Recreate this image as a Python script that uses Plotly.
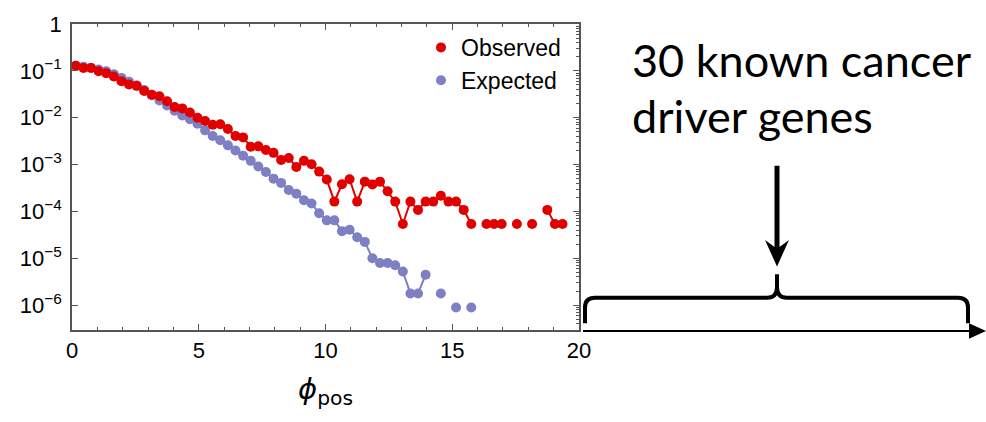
import plotly.graph_objects as go

# Bin centres of phi_pos (bin width 0.3)
phi = [round(0.15 + 0.3 * k, 2) for k in range(65)]

observed = [
    0.129, 0.115, 0.115, 0.0977, 0.0891, 0.0759, 0.0603, 0.0513, 0.0479, 0.0372,
    0.0309, 0.0288, 0.0224, 0.0170, 0.0158, 0.0129, 0.0100, 0.00851, 0.00708, 0.00724,
    0.00575, 0.00407, 0.00380, 0.00240, 0.00245, 0.00204, 0.00178, 0.00126, 0.00138, 0.000891,
    0.00120, 0.00102, 0.000708, 0.000479, 0.000162, 0.000380, 0.000486, 0.000162, 0.000432, 0.000378,
    0.000432, 0.000270, 0.000162, 0.000054, 0.000162, 0.000108, 0.000162, 0.000162, 0.000216, 0.000162,
    0.000162, 0.000108, 0.000054, None, 0.000054, 0.000054, 0.000054, None, 0.000054, None,
    0.000054, None, 0.000108, 0.000054, 0.000054,
]

expected = [
    0.129, 0.123, 0.117, 0.107, 0.0977, 0.0851, 0.0708, 0.0589, 0.0490, 0.0389,
    0.0302, 0.0234, 0.0182, 0.0141, 0.0112, 0.00933, 0.00741, 0.00537, 0.00407, 0.00331,
    0.00257, 0.00200, 0.00155, 0.00120, 0.000912, 0.000692, 0.000501, 0.000407, 0.000288, 0.000240,
    0.000174, 0.000148, 0.0000912, 0.0000646, 0.0000646, 0.0000380, 0.0000407, 0.0000282, 0.0000224, 0.0000100,
    0.00000794, 0.00000794, 0.00000708, 0.00000525, 0.00000178, 0.00000178, 0.00000447, None, 0.00000178, None,
    0.00000089, None, 0.00000089,
]

x_ticks = [0, 5, 10, 15, 20]
y_ticks = [1, 1e-1, 1e-2, 1e-3, 1e-4, 1e-5, 1e-6]
y_tick_text = ["1", "10<sup>−1</sup>", "10<sup>−2</sup>", "10<sup>−3</sup>",
               "10<sup>−4</sup>", "10<sup>−5</sup>", "10<sup>−6</sup>"]

RED = "#E10000"
BLUE = "#7F7FC3"
FRAME = "#555555"
TICK_FONT = dict(family="Liberation Sans, Arial, sans-serif", size=22, color="black")
LEGEND_FONT = dict(family="Liberation Sans, Arial, sans-serif", size=23, color="black")

W, H = 986, 422
L, R, T, B = 72, 407, 17, 92
PW, PH = W - L - R, H - T - B


def px(x):
    return (x - L) / PW


def py(y):
    return (H - B - y) / PH


fig = go.Figure()

# Expected (drawn below)
fig.add_trace(go.Scatter(
    x=phi[:len(expected)], y=expected, mode="lines+markers", showlegend=False,
    line=dict(color=BLUE, width=2), marker=dict(color=BLUE, size=10),
    connectgaps=False, yaxis="y",
))
# Observed (drawn on top)
fig.add_trace(go.Scatter(
    x=phi, y=observed, mode="lines+markers", showlegend=False,
    line=dict(color=RED, width=2), marker=dict(color=RED, size=10),
    connectgaps=False, yaxis="y2",
))
# Legend entries (dot only)
fig.add_trace(go.Scatter(x=[None], y=[None], mode="markers", name="Observed",
                         marker=dict(color=RED, size=10)))
fig.add_trace(go.Scatter(x=[None], y=[None], mode="markers", name="Expected",
                         marker=dict(color=BLUE, size=10)))

y_range = [-6.53, 0]

fig.update_layout(
    width=W, height=H,
    margin=dict(l=L, r=R, t=T, b=B),
    paper_bgcolor="white", plot_bgcolor="white",
    showlegend=True,
    legend=dict(x=px(421), y=py(19), xanchor="left", yanchor="top",
                bgcolor="rgba(0,0,0,0)", font=LEGEND_FONT, itemwidth=30,
                tracegroupgap=0),
    xaxis=dict(
        range=[0, 20], tickvals=x_ticks, ticks="inside", ticklen=6, tickwidth=1,
        tickcolor=FRAME, showline=True, linecolor=FRAME, linewidth=1.5,
        mirror="ticks", showgrid=False, zeroline=False, tickfont=TICK_FONT,
        minor=dict(dtick=1, ticks="inside", ticklen=3, tickcolor=FRAME, showgrid=False),
    ),
    yaxis=dict(
        type="log", range=y_range, tickvals=y_ticks, ticktext=y_tick_text,
        ticks="inside", ticklen=6, tickcolor=FRAME, showline=True, linecolor=FRAME,
        linewidth=1.5, mirror=False, showgrid=False, zeroline=False, tickfont=TICK_FONT,
        ticklabelstandoff=4,
    ),
    yaxis2=dict(
        type="log", range=y_range, overlaying="y", side="right", tickvals=y_ticks,
        showticklabels=False, ticks="inside", ticklen=6, tickcolor=FRAME,
        showline=True, linecolor=FRAME, linewidth=1.5, showgrid=False, zeroline=False,
        minor=dict(ticks="inside", ticklen=3, tickcolor=FRAME, showgrid=False, dtick="D1"),
    ),
)

# Axis title
fig.add_annotation(
    x=px(325), y=py(414), xref="paper", yref="paper", showarrow=False,
    text="<i>ϕ</i><sub>pos</sub>",
    font=dict(family="DejaVu Sans, Liberation Sans, sans-serif", size=29, color="black"),
)

# Side note text
NOTE_FONT = dict(family="Lato, Open Sans, sans-serif", size=45, color="black")
fig.add_annotation(x=px(630), y=py(54), xref="paper", yref="paper", showarrow=False,
                   text="30 known cancer", xanchor="left", yanchor="middle", font=NOTE_FONT)
fig.add_annotation(x=px(630), y=py(111), xref="paper", yref="paper", showarrow=False,
                   text="driver genes", xanchor="left", yanchor="middle", font=NOTE_FONT)


def P(x, y):
    return f"{px(x):.5f},{py(y):.5f}"


# Thin horizontal arrow
fig.add_shape(type="line", xref="paper", yref="paper",
              x0=px(583), y0=py(331), x1=px(975), y1=py(331),
              line=dict(color="black", width=2))
fig.add_shape(type="path", xref="paper", yref="paper",
              path=f"M {P(986, 331)} L {P(969, 323)} L {P(969, 339)} Z",
              fillcolor="black", line=dict(color="black", width=0))

# Curly brace
brace = (f"M {P(585, 323)} L {P(585, 307)} Q {P(585, 297)} {P(595, 297)} "
         f"L {P(767, 297)} Q {P(777, 297)} {P(777, 286)} L {P(777, 273)} "
         f"M {P(777, 286)} Q {P(777, 297)} {P(787, 297)} "
         f"L {P(958, 297)} Q {P(968, 297)} {P(968, 307)} L {P(968, 323)}")
fig.add_shape(type="path", xref="paper", yref="paper", path=brace,
              line=dict(color="black", width=4))

# Thick down arrow
fig.add_shape(type="line", xref="paper", yref="paper",
              x0=px(777), y0=py(162), x1=px(777), y1=py(248),
              line=dict(color="black", width=5))
fig.add_shape(type="path", xref="paper", yref="paper",
              path=f"M {P(777, 265)} L {P(765, 238)} L {P(777, 247)} L {P(789, 238)} Z",
              fillcolor="black", line=dict(color="black", width=0))

fig.write_html("out.html")
